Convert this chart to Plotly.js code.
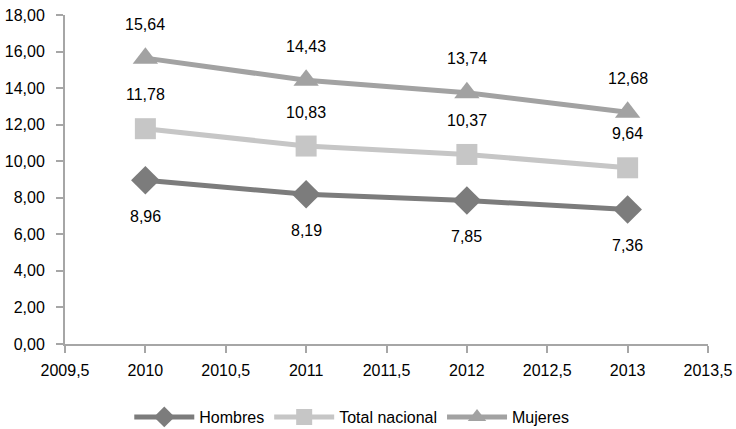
<!DOCTYPE html>
<html><head><meta charset="utf-8">
<script src="https://cdn.plot.ly/plotly-3.0.1.min.js"></script>
<style>body{margin:0;background:#fff}#c{width:736px;height:429px}</style>
</head><body><div id="c"></div>
<script>
const years = [2010, 2011, 2012, 2013];
const hombres = [8.96, 8.19, 7.85, 7.36];
const total = [11.78, 10.83, 10.37, 9.64];
const mujeres = [15.64, 14.43, 13.74, 12.68];
const yTicks = [0,2,4,6,8,10,12,14,16,18];
const xTicks = [2009.5,2010,2010.5,2011,2011.5,2012,2012.5,2013,2013.5];
const fmt = (v,d) => v.toFixed(d).replace('.', ',');
const xfmt = v => String(v).replace('.', ',');

const font = {family: '"Liberation Sans", Arial, sans-serif', size: 16, color: '#000'};
function tr(name, y, color, symbol, msize) {
  return {x: years, y: y, name: name, type: 'scatter', mode: 'lines+markers',
    line: {color: color, width: 5}, marker: {color: color, symbol: symbol, size: msize}};
}
const data = [
  tr('Hombres', hombres, '#7c7c7c', 'diamond', 22),
  tr('Total nacional', total, '#c6c6c6', 'square', 21),
  tr('Mujeres', mujeres, '#a2a2a2', 'triangle-up', 22)
];
const annotations = [];
function labels(y, shift) {
  y.forEach((v, i) => annotations.push({x: years[i], y: v, text: fmt(v, 2), showarrow: false,
    yshift: shift, font: font, xanchor: 'center', yanchor: 'middle'}));
}
labels(hombres, -36);
labels(total, 34);
labels(mujeres, 34);

const layout = {
  width: 736, height: 429, margin: {l: 65, r: 28, t: 15, b: 85, autoexpand: false},
  paper_bgcolor: '#fff', plot_bgcolor: '#fff', font: font, showlegend: true,
  annotations: annotations,
  xaxis: {range: [2009.5, 2013.5], tickvals: xTicks, ticktext: xTicks.map(xfmt),
    showgrid: false, zeroline: false, showline: true, linecolor: '#a6a6a6', linewidth: 2,
    ticks: 'outside', ticklen: 7, tickcolor: '#a6a6a6', tickwidth: 2, tickfont: font,
    ticklabelstandoff: 4},
  yaxis: {range: [0, 18], tickvals: yTicks, ticktext: yTicks.map(v => fmt(v,2)),
    showgrid: false, zeroline: false, showline: true, linecolor: '#a6a6a6', linewidth: 2,
    ticks: 'outside', ticklen: 7, tickcolor: '#a6a6a6', tickwidth: 2, tickfont: font,
    ticklabelstandoff: 8},
  legend: {orientation: 'h', x: 0.446, xanchor: 'center', y: -0.222, yanchor: 'middle', font: font, itemwidth: 60}
};
Plotly.newPlot('c', data, layout, {displayModeBar: false, staticPlot: true});
</script></body></html>
